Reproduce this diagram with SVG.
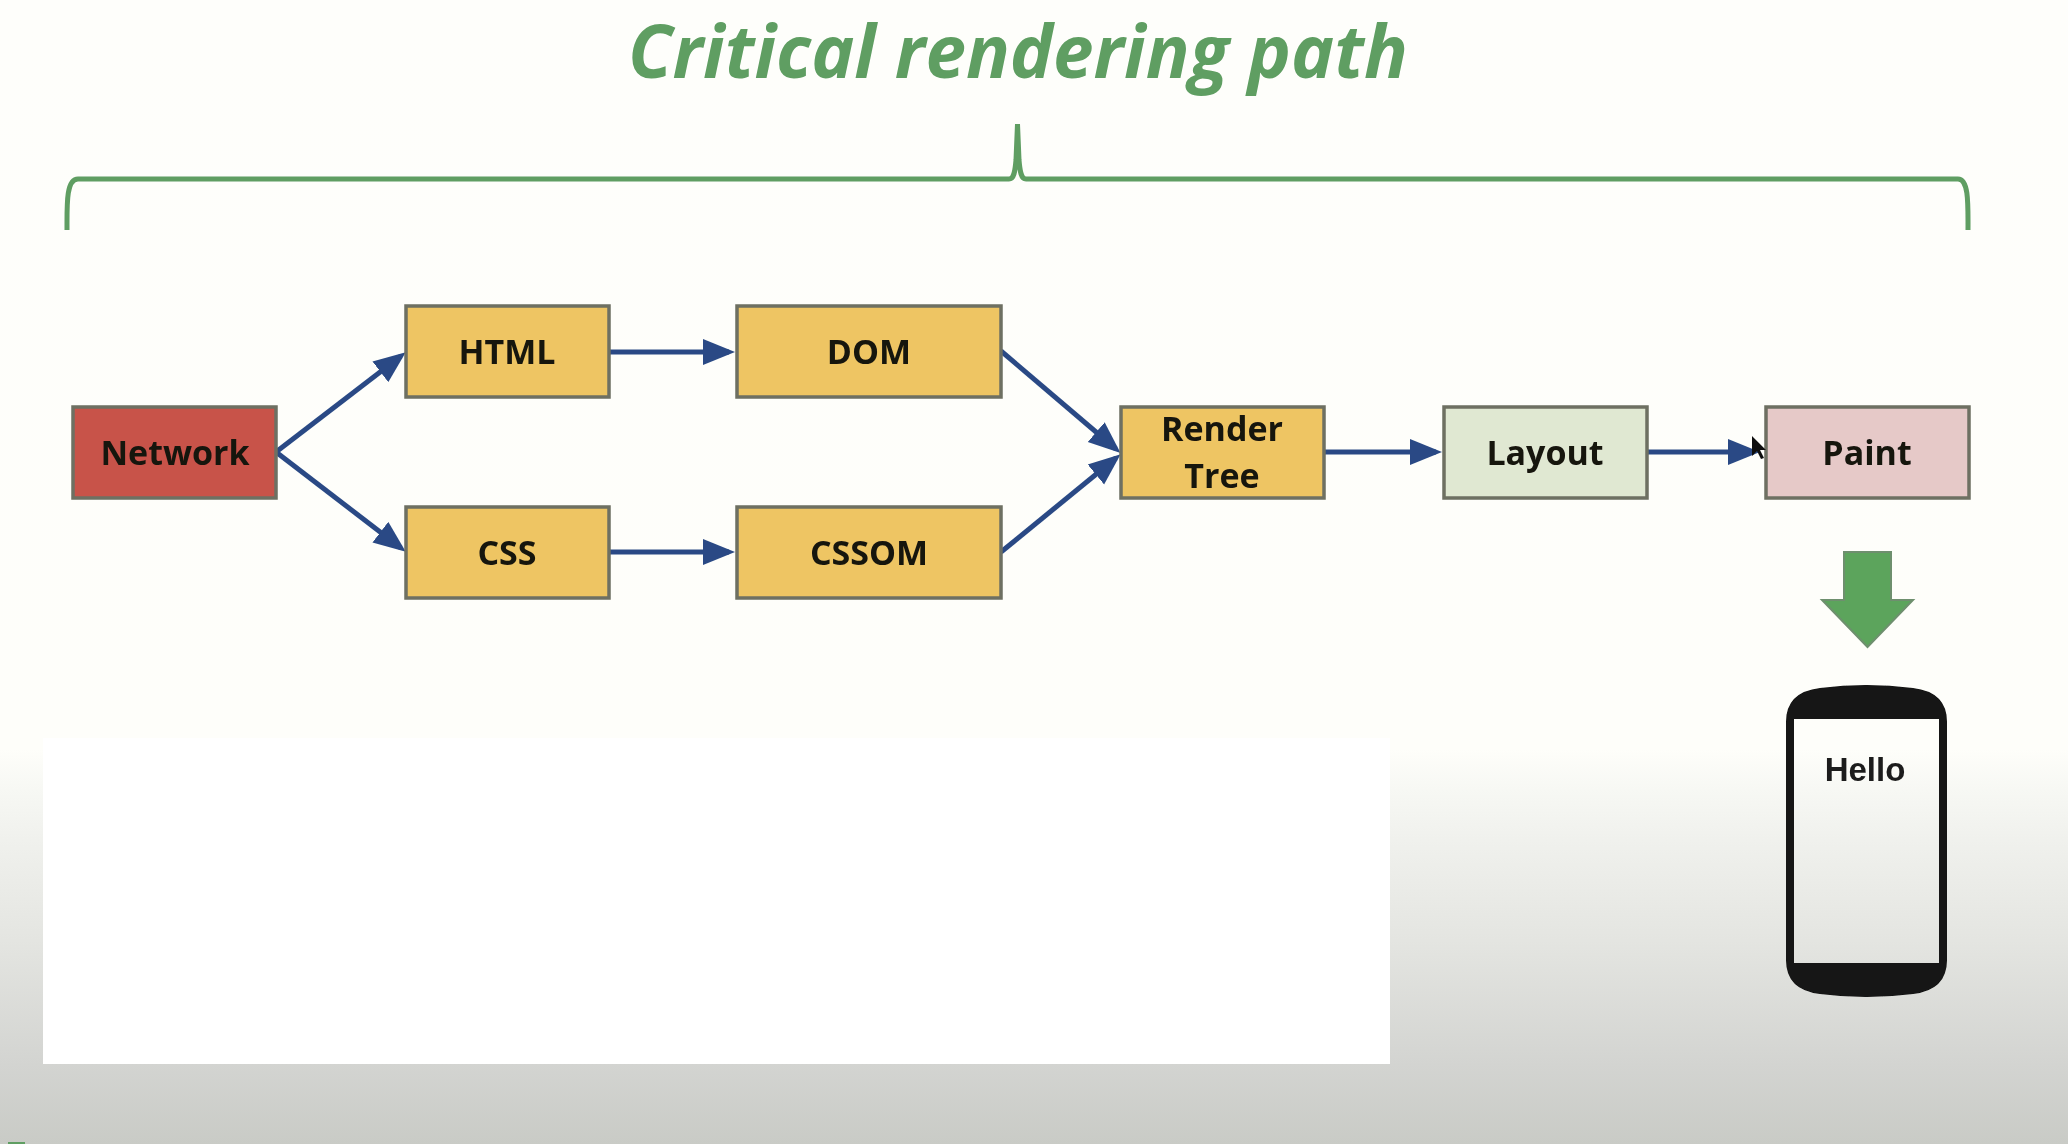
<svg xmlns="http://www.w3.org/2000/svg" width="2068" height="1144" viewBox="0 0 2068 1144">
<style>
.box{stroke:#6e6f62;stroke-width:3.5}
.y{fill:#eec563}
.t{font-family:"Open Sans","Noto Sans","Liberation Sans",sans-serif;font-weight:700;font-size:34px;fill:#17140f;text-anchor:middle}
.c{fill:none;stroke:#2a4a85;stroke-width:5;marker-end:url(#arrow)}
</style>
<defs>
<linearGradient id="bg" gradientUnits="userSpaceOnUse" x1="0" y1="0" x2="0" y2="1144">
<stop offset="0" stop-color="#fefefb"/><stop offset="0.655" stop-color="#fefefa"/><stop offset="0.69" stop-color="#f7f8f4"/><stop offset="0.734" stop-color="#f0f1ed"/><stop offset="0.822" stop-color="#e4e5e1"/><stop offset="0.93" stop-color="#d3d4d1"/><stop offset="1" stop-color="#c9cbc6"/>
</linearGradient>
<marker id="arrow" markerUnits="userSpaceOnUse" markerWidth="34" markerHeight="28" refX="26" refY="14" orient="auto">
<path d="M0 1L32 14L0 27Z" fill="#2a4a85"/>
</marker>
<filter id="soft" x="-5%" y="-5%" width="110%" height="110%"><feGaussianBlur stdDeviation="0.7"/></filter>
</defs>
<rect id="background" width="2068" height="1144" fill="url(#bg)"/>
<rect id="blank" x="43" y="738" width="1347" height="326" fill="#ffffff"/>
<g filter="url(#soft)">
<g id="title">
<text x="1018" y="78" font-family="'Open Sans','Noto Sans',sans-serif" font-weight="700" font-style="italic" font-size="72.700" fill="#5f9e62" text-anchor="middle">Critical rendering path</text>
<path d="M67 230C67 205 66 179 78 179L1009 179C1014 179 1015 172 1016 160L1017.500 124L1019 160C1020 172 1021 179 1026 179L1958 179C1969 179 1968 205 1968 230" fill="none" stroke="#5f9e62" stroke-width="5"/>
</g>
<g id="connectors">
<path class="c" d="M276 452L401 356"/>
<path class="c" d="M276 452L401 548"/>
<path class="c" d="M609 352L729 352"/>
<path class="c" d="M609 552L729 552"/>
<path class="c" d="M1001 351L1116 449"/>
<path class="c" d="M1001 552L1116 458"/>
<path class="c" d="M1324 452L1436 452"/>
<path class="c" d="M1647 452L1754 452"/>
</g>
<g id="network"><rect class="box" x="73" y="407" width="203" height="91" fill="#c8524a"/><text class="t" x="175" y="465">Network</text></g>
<g id="html"><rect class="box y" x="406" y="306" width="203" height="91"/><text class="t" x="507" y="364">HTML</text></g>
<g id="css"><rect class="box y" x="406" y="507" width="203" height="91"/><text class="t" x="507" y="565">CSS</text></g>
<g id="dom"><rect class="box y" x="737" y="306" width="264" height="91"/><text class="t" x="869" y="364">DOM</text></g>
<g id="cssom"><rect class="box y" x="737" y="507" width="264" height="91"/><text class="t" x="869" y="565">CSSOM</text></g>
<g id="render-tree"><rect class="box y" x="1121" y="407" width="203" height="91"/><text class="t" x="1222" y="441">Render</text><text class="t" x="1222" y="488">Tree</text></g>
<g id="layout"><rect class="box" x="1444" y="407" width="203" height="91" fill="#e0e8d2"/><text class="t" x="1545" y="465">Layout</text></g>
<g id="paint"><rect class="box" x="1766" y="407" width="203" height="91" fill="#e6c9c8"/><text class="t" x="1867" y="465">Paint</text></g>
<polygon id="cursor" points="1752,436 1752,456 1757,451 1761,459 1764,458 1760,450 1766,450" fill="#111"/>
<polygon id="down-arrow" points="1844,552 1891,552 1891,600 1913,600 1867.500,647 1822,600 1844,600" fill="#5ba45c" stroke="#6e8f6e" stroke-width="2"/>
<g id="phone">
<path d="M1786 722Q1786 692 1820 688Q1866 682 1913 688Q1947 692 1947 722L1947 960Q1947 990 1913 994Q1866 1000 1820 994Q1786 990 1786 960Z" fill="#121212"/>
<rect x="1794" y="719" width="145" height="244" fill="url(#bg)"/>
<text x="1865" y="781" font-family="'Liberation Sans',Arial,sans-serif" font-weight="700" font-size="33" fill="#1a1a1a" text-anchor="middle">Hello</text>
</g>
<g id="corner"><rect x="8" y="1142" width="17" height="2" fill="#5f9e62"/></g>
</g>
</svg>
